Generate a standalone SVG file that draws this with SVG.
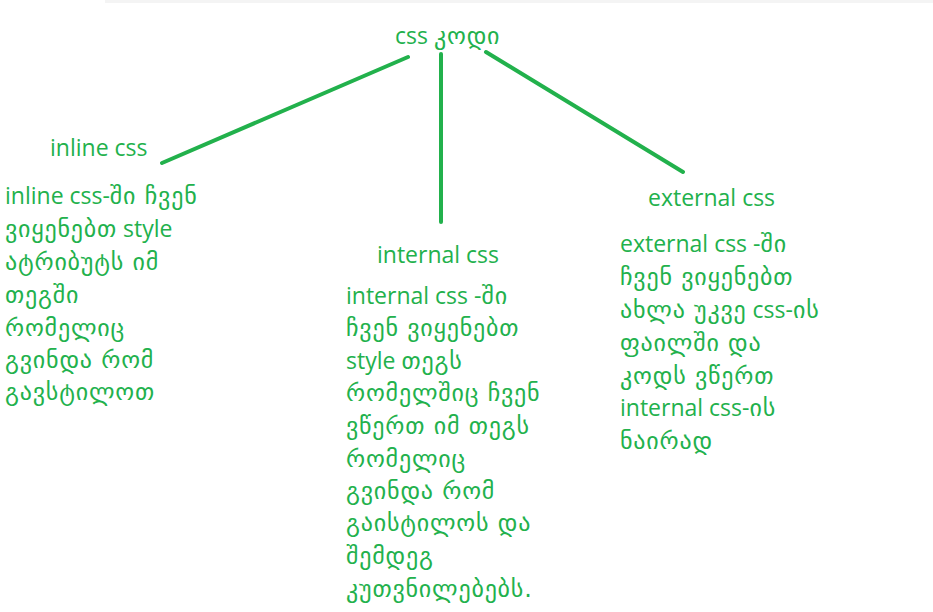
<svg xmlns="http://www.w3.org/2000/svg" width="933" height="612" viewBox="0 0 933 612">
<style>
text{font-family:"Open Sans","DejaVu Sans",sans-serif;font-size:23px;fill:#22b14c}
.g{font-family:"DejaVu Sans",sans-serif;font-size:24px;letter-spacing:0.8px}
.c{stroke:#22b14c;stroke-width:4;stroke-linecap:round;fill:none}
</style>
<rect x="0" y="0" width="933" height="612" fill="#ffffff"/>
<rect x="105" y="0" width="828" height="3" fill="#f4f4f4"/>
<g id="connectors">
<line class="c" x1="408" y1="57" x2="162" y2="163"/>
<line class="c" x1="441" y1="54" x2="441" y2="222"/>
<line class="c" x1="486" y1="52" x2="683" y2="172"/>
</g>
<g id="root"><text x="395" y="44">css <tspan class="g">კოდი</tspan></text></g>
<g id="inline">
<text x="50" y="156">inline css</text>
<text x="5" y="204">inline css-<tspan class="g">ში ჩვენ</tspan></text>
<text x="5" y="237"><tspan class="g">ვიყენებთ</tspan> style</text>
<text x="5" y="270"><tspan class="g">ატრიბუტს იმ</tspan></text>
<text x="5" y="303"><tspan class="g">თეგში</tspan></text>
<text x="5" y="336"><tspan class="g">რომელიც</tspan></text>
<text x="5" y="368"><tspan class="g">გვინდა რომ</tspan></text>
<text x="5" y="400"><tspan class="g">გავსტილოთ</tspan></text>
</g>
<g id="internal">
<text x="377" y="263">internal css</text>
<text x="346" y="304">internal css -<tspan class="g">ში</tspan></text>
<text x="346" y="336"><tspan class="g">ჩვენ ვიყენებთ</tspan></text>
<text x="346" y="369">style <tspan class="g">თეგს</tspan></text>
<text x="346" y="401"><tspan class="g">რომელშიც ჩვენ</tspan></text>
<text x="346" y="434"><tspan class="g">ვწერთ იმ თეგს</tspan></text>
<text x="346" y="467"><tspan class="g">რომელიც</tspan></text>
<text x="346" y="499"><tspan class="g">გვინდა რომ</tspan></text>
<text x="346" y="531"><tspan class="g">გაისტილოს და</tspan></text>
<text x="346" y="564"><tspan class="g">შემდეგ</tspan></text>
<text x="346" y="597"><tspan class="g">კუთვნილებებს.</tspan></text>
</g>
<g id="external">
<text x="648" y="206">external css</text>
<text x="620" y="252">external css -<tspan class="g">ში</tspan></text>
<text x="620" y="285"><tspan class="g">ჩვენ ვიყენებთ</tspan></text>
<text x="620" y="318"><tspan class="g">ახლა უკვე</tspan> css-<tspan class="g">ის</tspan></text>
<text x="620" y="351"><tspan class="g">ფაილში და</tspan></text>
<text x="620" y="384"><tspan class="g">კოდს ვწერთ</tspan></text>
<text x="620" y="416">internal css-<tspan class="g">ის</tspan></text>
<text x="620" y="449"><tspan class="g">ნაირად</tspan></text>
</g>
</svg>
